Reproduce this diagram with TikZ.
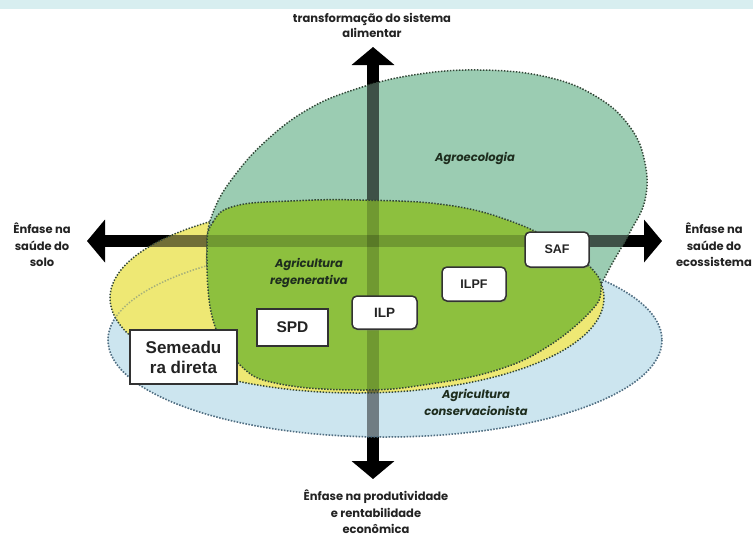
\documentclass[tikz,border=0pt]{standalone}
\usepackage{fontspec}
\setmainfont{Poppins}
\newfontfamily\boxfont{Liberation Sans}
\usetikzlibrary{arrows.meta,shadows}
\definecolor{band}{RGB}{216,238,240}
\definecolor{agroF}{RGB}{155,204,178}
\definecolor{regenF}{RGB}{141,192,62}
\definecolor{yelF}{RGB}{238,232,116}
\definecolor{bluF}{RGB}{204,229,239}
\definecolor{dotC}{RGB}{50,70,55}
\definecolor{dotB}{RGB}{80,110,130}
\definecolor{txt}{RGB}{35,35,35}
\definecolor{itx}{RGB}{30,45,30}
\definecolor{boxC}{RGB}{50,50,50}
\tikzset{
  axisline/.style={line width=12pt, black,
    {Triangle[width=42pt,length=18pt]}-{Triangle[width=42pt,length=18pt]}},
  dotline/.style={line width=1.5pt, dash pattern=on 1.4pt off 1.6pt},
  axlabel/.style={font=\bfseries\fontsize{11.5}{16.5}\selectfont, align=center, text=txt, inner sep=0pt},
  zonelabel/.style={font=\bfseries\itshape\fontsize{11.5}{17}\selectfont, align=center, text=itx, inner sep=0pt},
  sqbox/.style={draw=boxC, line width=1.5pt, fill=white, inner sep=0pt, align=center,
    font=\boxfont\bfseries, text=txt},
  rdbox/.style={sqbox, rounded corners=5pt,
    drop shadow={opacity=0.35, shadow xshift=1pt, shadow yshift=-1.5pt}}
}
\newcommand\bluepath{(385,340) ellipse [x radius=277, y radius=97]}
\newcommand\yelpath{(357,298) ellipse [x radius=247, y radius=95]}
\newcommand\agropath{plot[smooth cycle, tension=0.7] coordinates {
  (207,245) (214,210) (235,175) (267,140) (307,110) (353,90) (413,75) (480,70)
  (547,77) (597,97) (630,127) (645,163) (645,200) (630,232) (613,262) (597,290)
  (575,318) (520,340) (430,350) (330,345) (250,320) (213,285)}}
\newcommand\regenpath{plot[smooth cycle, tension=0.7] coordinates {
  (207,250) (213,222) (235,206) (290,201) (360,200) (447,205) (513,222) (563,247)
  (593,270) (601,290) (590,312) (547,347) (497,370) (430,384) (363,390) (280,384)
  (240,365) (213,320)}}
\newcommand\axesover[1]{%
  \draw[axisline, opacity=#1] (vbot) -- (vtop);
  \draw[axisline, opacity=#1] (hl) -- (hr);}
\begin{document}
\begin{tikzpicture}[x=1pt,y=-1pt]
\useasboundingbox (0,0) rectangle (753,539);
\fill[white] (0,0) rectangle (753,539);
\fill[band] (0,0) rectangle (753,9);

% axes
\coordinate (vtop) at (373,47);
\coordinate (vbot) at (373,479);
\coordinate (hl) at (87,241);
\coordinate (hr) at (662,241);
\draw[axisline] (vbot) -- (vtop);
\draw[axisline] (hl) -- (hr);

% conservacionista (blue)
\fill[bluF] \bluepath;
\begin{scope}\clip \bluepath; \axesover{0.45} \end{scope}
\draw[dotline, draw=dotB] \bluepath;

% yellow
\fill[yelF] \yelpath;
\begin{scope}\clip \yelpath; \axesover{0.52} \end{scope}
\draw[dotline, draw=dotC] \yelpath;

% agroecologia
\fill[agroF] \agropath;
\begin{scope}\clip \agropath; \axesover{0.6} \end{scope}
\draw[dotline, draw=dotC] \agropath;

% blue border seen through
\draw[dotline, draw=dotB, opacity=0.45] \bluepath;

% regenerativa (green)
\fill[regenF] \regenpath;
\begin{scope}\clip \regenpath; \axesover{0.2} \end{scope}
\draw[dotline, draw=dotC] \regenpath;

% axis labels
\node[axlabel, font=\bfseries\fontsize{11.5}{15}\selectfont] (ltop) at (372,25) {transformação do sistema\\alimentar};
\node[axlabel] (lleft) at (42,245) {Ênfase na\\saúde do\\solo};
\node[axlabel] (lright) at (714,245) {Ênfase na\\saúde do\\ecossistema};
\node[axlabel] (lbot) at (376,512) {Ênfase na produtividade\\e rentabilidade\\econômica};

% zone labels
\node[zonelabel] (zagro) at (475,158) {Agroecologia};
\node[zonelabel] (zregen) at (309,273) {Agricultura\\regenerativa};
\node[zonelabel] (zcons) at (476,402) {Agricultura\\conservacionista};

% boxes
\node[sqbox, minimum width=107pt, minimum height=54pt,
  font=\boxfont\bfseries\fontsize{17}{20}\selectfont] (sem) at (183.5,357) {Semeadu\\ra direta};
\node[sqbox, minimum width=71pt, minimum height=37pt,
  font=\boxfont\bfseries\fontsize{15.5}{18}\selectfont] (spd) at (292.5,327.5) {SPD};
\node[rdbox, minimum width=65pt, minimum height=33pt,
  font=\boxfont\bfseries\fontsize{13.5}{16}\selectfont] (ilp) at (384.5,312.5) {ILP};
\node[rdbox, minimum width=64pt, minimum height=34pt,
  font=\boxfont\bfseries\fontsize{12.5}{15}\selectfont] (ilpf) at (474,284) {ILPF};
\node[rdbox, minimum width=64pt, minimum height=35pt,
  font=\boxfont\bfseries\fontsize{12.5}{15}\selectfont] (saf) at (557,249.5) {SAF};
\end{tikzpicture}
\end{document}
